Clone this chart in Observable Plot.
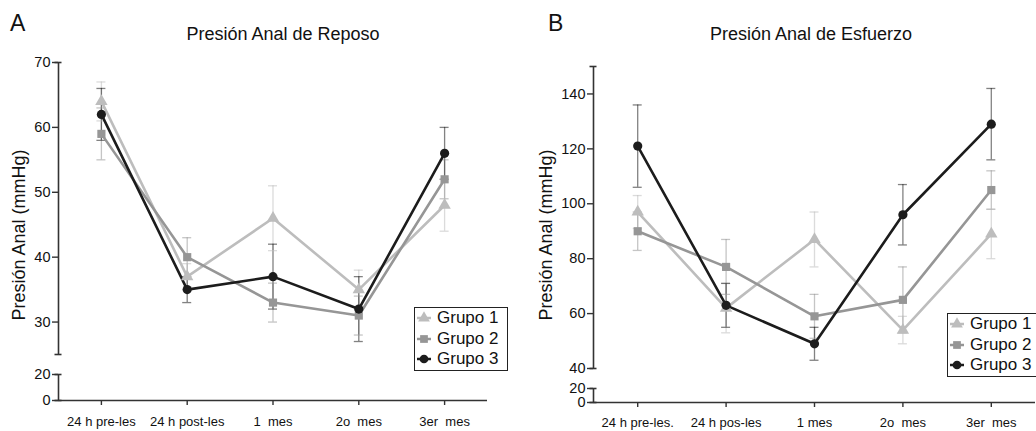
<!DOCTYPE html>
<html>
<head>
<meta charset="utf-8">
<script src="https://cdn.jsdelivr.net/npm/d3@7"></script>
<script src="https://cdn.jsdelivr.net/npm/@observablehq/plot@0.6"></script>
<style>
  body { margin: 0; background: #fff; font-family: "Liberation Sans", Arial, sans-serif; color: #111; }
  #wrap { position: relative; width: 1036px; height: 431px; overflow: hidden; background: #fff; }
  #wrap svg.plot { position: absolute; top: 0; }
  svg text { white-space: pre; }
  .letter { position: absolute; font-size: 23px; line-height: 1; }
  .title { position: absolute; font-size: 18px; line-height: 1; white-space: nowrap; transform: translateX(-50%); }
  .ylab { position: absolute; font-size: 18px; line-height: 1; white-space: nowrap; transform: translate(-50%, -50%) rotate(-90deg); }
  .legend { position: absolute; box-sizing: border-box; border: 1.5px solid #222; background: #fff; font-size: 17px; }
  .legend .row { display: flex; align-items: center; height: 20.5px; white-space: nowrap; }
  .legend svg { display: block; margin-right: 4px; }
</style>
</head>
<body>
<div id="wrap">
  <div class="letter" style="left:10px;top:12px">A</div>
  <div class="letter" style="left:548px;top:12px">B</div>
  <div class="title" style="left:283px;top:25px">Presión Anal de Reposo</div>
  <div class="title" style="left:811px;top:25px">Presión Anal de Esfuerzo</div>
  <div class="ylab" style="left:19px;top:235px">Presión Anal (mmHg)</div>
  <div class="ylab" style="left:546px;top:235px">Presión Anal (mmHg)</div>
</div>
<script>
// ---- data ----
const groups = ["Grupo 1", "Grupo 2", "Grupo 3"];
const groupColors = ["#bdbdbd", "#969696", "#1c1c1c"];
const groupSymbols = ["triangle", "square", "circle"];

const categoriesA = ["24 h pre-les", "24 h post-les", "1  mes", "2o  mes", "3er  mes"];
const categoriesB = ["24 h pre-les.", "24 h pos-les", "1 mes", "2o  mes", "3er  mes"];

// Panel A: Presión Anal de Reposo
const reposoG1 = [64, 37, 46, 35, 48];
const reposoG1Lo = [61, 35, 41, 32, 44];
const reposoG1Hi = [67, 39, 51, 38, 52];
const reposoG2 = [59, 40, 33, 31, 52];
const reposoG2Lo = [55, 37, 30, 28, 49];
const reposoG2Hi = [63, 43, 36, 34, 55];
const reposoG3 = [62, 35, 37, 32, 56];
const reposoG3Lo = [58, 33, 32, 27, 52];
const reposoG3Hi = [66, 37, 42, 37, 60];

// Panel B: Presión Anal de Esfuerzo
const esfuerzoG1 = [97, 62, 87, 54, 89];
const esfuerzoG1Lo = [91, 53, 77, 49, 80];
const esfuerzoG1Hi = [103, 71, 97, 59, 98];
const esfuerzoG2 = [90, 77, 59, 65, 105];
const esfuerzoG2Lo = [83, 67, 51, 53, 98];
const esfuerzoG2Hi = [97, 87, 67, 77, 112];
const esfuerzoG3 = [121, 63, 49, 96, 129];
const esfuerzoG3Lo = [106, 55, 43, 85, 116];
const esfuerzoG3Hi = [136, 71, 55, 107, 142];

// broken y axes: tick values and the two drawn axis segments
const ticksA = [0, 20, 30, 40, 50, 60, 70];
const segmentsA = [{y1: 0, y2: 20}, {y1: 25, y2: 70}];
const ticksB = [0, 20, 40, 60, 80, 100, 120, 140];
const segmentsB = [{y1: 0, y2: 20}, {y1: 40, y2: 150}];

// ---- build ----
function makeRows(vals, los, his) {
  const rows = [];
  groups.forEach((g, k) => {
    vals[k].forEach((v, i) => rows.push({grp: g, i, v, lo: los[k][i], hi: his[k][i]}));
  });
  return rows;
}

function panel(o) {
  const rows = makeRows(o.vals, o.los, o.his);
  const xDom = [-0.5, o.cats.length - 0.5];
  const x0 = () => xDom[0];
  const caps = [];
  o.segs.forEach(s => { caps.push({y: s.y1}); caps.push({y: s.y2}); });
  // piecewise (broken) y scale: compresses the lower segment and the gap
  const brk = d3.scaleLinear().domain(o.brkDomain).range(o.brkRange);
  return Plot.plot({
    width: 518,
    height: 431,
    marginLeft: o.ml,
    marginRight: o.mr,
    marginTop: 0,
    marginBottom: o.mb,
    style: {fontFamily: '"Liberation Sans", Arial, sans-serif', color: "#111", background: "transparent"},
    x: {domain: xDom, axis: null, label: null},
    y: {transform: brk, range: o.yRange, axis: null, label: null},
    color: {domain: groups, range: groupColors},
    symbol: {domain: groups, range: groupSymbols},
    marks: [
      Plot.ruleY([0], {stroke: "#333", strokeWidth: 1.6}),
      Plot.ruleX(o.segs, {x: x0, y1: "y1", y2: "y2", stroke: "#333", strokeWidth: 1.6}),
      Plot.ruleY(caps, {x1: x0, x2: x0, y: "y", insetLeft: -3.5, insetRight: -3.5, stroke: "#333", strokeWidth: 1.6}),
      // y ticks and labels
      Plot.ruleY(o.yTicks, {x1: x0, x2: x0, y: d => d, insetLeft: -6, insetRight: 0, stroke: "#333", strokeWidth: 1.4}),
      Plot.text(o.yTicks, {x: x0, y: d => d, text: d => String(d), textAnchor: "end", dx: -8, fontSize: 14.5, fill: "#111"}),
      Plot.axisX({ticks: o.cats.map((_, i) => i), tickFormat: i => o.cats[i], tickSize: 5, tickPadding: o.lp, fontSize: 13, stroke: "#333", strokeWidth: 1.4, label: null}),
      // error bars
      Plot.ruleX(rows, {x: "i", y1: "lo", y2: "hi", stroke: "grp", strokeOpacity: 0.55, strokeWidth: 1.3}),
      Plot.ruleY(rows, {x1: "i", x2: "i", y: "lo", stroke: "grp", strokeOpacity: 0.55, strokeWidth: 1.3, insetLeft: -4.5, insetRight: -4.5}),
      Plot.ruleY(rows, {x1: "i", x2: "i", y: "hi", stroke: "grp", strokeOpacity: 0.55, strokeWidth: 1.3, insetLeft: -4.5, insetRight: -4.5}),
      // lines and markers
      Plot.line(rows, {x: "i", y: "v", stroke: "grp", z: "grp", strokeWidth: 2.6}),
      Plot.dot(rows, {x: "i", y: "v", symbol: "grp", fill: "grp", r: 4.6})
    ]
  });
}

const wrap = document.getElementById("wrap");

const svgA = panel({
  cats: categoriesA,
  vals: [reposoG1, reposoG2, reposoG3],
  los: [reposoG1Lo, reposoG2Lo, reposoG3Lo],
  his: [reposoG1Hi, reposoG2Hi, reposoG3Hi],
  brkDomain: [0, 20, 25, 70], brkRange: [0, 26, 46, 338], yRange: [400, 62],
  yTicks: ticksA, segs: segmentsA,
  ml: 58, mr: 31, mb: 31, lp: 11
});
svgA.classList.add("plot");
svgA.style.left = "0px";
wrap.insertBefore(svgA, wrap.firstChild);

const svgB = panel({
  cats: categoriesB,
  vals: [esfuerzoG1, esfuerzoG2, esfuerzoG3],
  los: [esfuerzoG1Lo, esfuerzoG2Lo, esfuerzoG3Lo],
  his: [esfuerzoG1Hi, esfuerzoG2Hi, esfuerzoG3Hi],
  brkDomain: [0, 20, 40, 150], brkRange: [0, 14, 34, 336], yRange: [402, 66],
  yTicks: ticksB, segs: segmentsB,
  ml: 75, mr: 1, mb: 29, lp: 10
});
svgB.classList.add("plot");
svgB.style.left = "518px";
wrap.insertBefore(svgB, wrap.firstChild);

// legends
function legend(left, top) {
  const box = document.createElement("div");
  box.className = "legend";
  box.style.left = left + "px";
  box.style.top = top + "px";
  box.style.width = "94px";
  box.style.height = "64px";
  groups.forEach((g, k) => {
    const row = document.createElement("div");
    row.className = "row";
    const s = d3.create("svg").attr("width", 18).attr("height", 20);
    s.append("line").attr("x1", 2).attr("x2", 16).attr("y1", 10).attr("y2", 10)
      .attr("stroke", groupColors[k]).attr("stroke-width", 2.5);
    const sym = {triangle: d3.symbolTriangle, square: d3.symbolSquare, circle: d3.symbolCircle}[groupSymbols[k]];
    s.append("path").attr("d", d3.symbol(sym, 60)()).attr("transform", "translate(9,10)")
      .attr("fill", groupColors[k]);
    row.appendChild(s.node());
    const t = document.createElement("span");
    t.textContent = g;
    row.appendChild(t);
    box.appendChild(row);
  });
  wrap.appendChild(box);
}
legend(414, 307);
legend(947, 313);
</script>
</body>
</html>
